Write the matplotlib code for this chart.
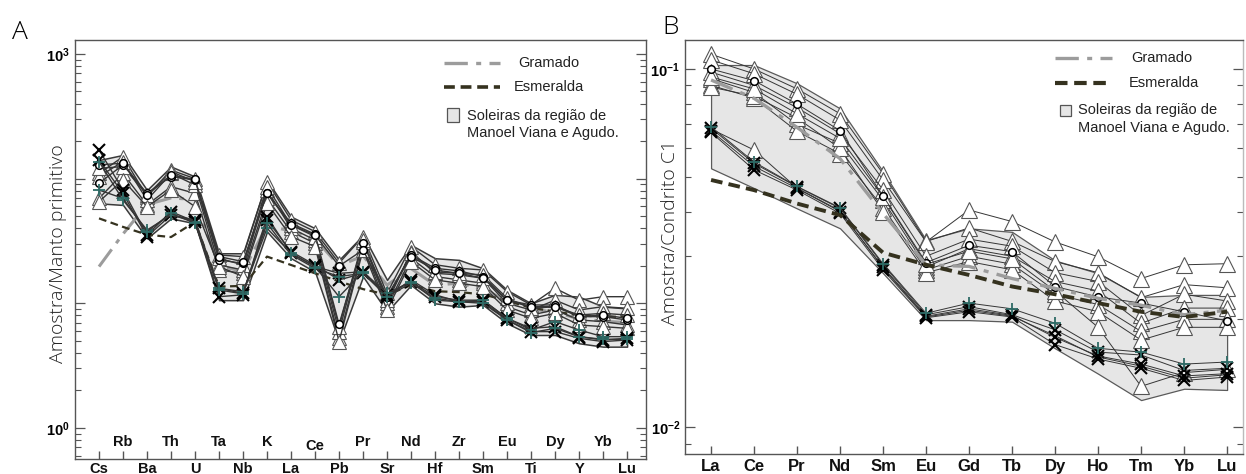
import numpy as np
import matplotlib.pyplot as plt
from matplotlib.lines import Line2D
from matplotlib.patches import Rectangle
from matplotlib.ticker import FixedLocator, NullFormatter

plt.rcParams['font.family'] = ['Liberation Sans', 'DejaVu Sans']
plt.rcParams['mathtext.fontset'] = 'custom'
plt.rcParams['mathtext.rm'] = 'Liberation Sans'
plt.rcParams['mathtext.bf'] = 'Liberation Sans:bold'

# ---------------- panel A : primitive mantle normalised ----------------
elem_a = ['Cs', 'Rb', 'Ba', 'Th', 'U', 'Ta', 'Nb', 'K', 'La', 'Ce', 'Pb', 'Pr',
          'Sr', 'Nd', 'Hf', 'Zr', 'Sm', 'Eu', 'Ti', 'Dy', 'Y', 'Yb', 'Lu']

a_field_top = [141, 155, 81, 125, 104, 25.2, 25.2, 97.5, 49.6, 40, 22.3, 35.3,
               15.4, 29.4, 23, 22.3, 19.1, 12.8, 10, 11.7, 11.3, 9.4, 9.1]
a_field_bot = [63.4, 61.5, 33.2, 48, 43.8, 10.6, 10.6, 37.6, 23, 17.9, 4.93, 16.4,
               8.57, 14, 10, 9.4, 9.7, 6.91, 5.57, 5.57, 4.78, 4.49, 4.49]

a_tri1 = [110, 150, 71.7, 117, 100, 24.4, 23.7, 94.6, 46.6, 37.6, 21, 34.3,
          12, 28.5, 20.4, 19.1, 18.5, 12.4, 9.7, 13.2, 10.6, 11.3, 11.3]
a_tri2 = [69.5, 110, 61.5, 86.2, 76.2, 18.5, 17.4, 69.5, 37.6, 30.3, 5.24, 28.5,
          9.4, 23, 16.4, 15.4, 14.5, 9.4, 8.06, 8.84, 7.35, 7.13, 6.7]
a_tri3 = [104, 137, 67.4, 110, 89, 20.3, 18.5, 81, 40, 32.2, 5.93, 31.3,
          10, 26, 17.4, 16.9, 15.9, 10, 8.84, 10.6, 8.84, 9.4, 9.12]
a_tri4 = [121, 125, 74, 114, 94.6, 23, 20.3, 86.2, 42.5, 34.3, 6.5, 32.2,
          10.6, 25.2, 17.9, 17.4, 16.9, 11, 9.1, 9.4, 8.06, 8.31, 8.06]
a_tri5 = [65.4, 97.5, 59.6, 81, 59.6, 19.7, 16.4, 63.4, 34.3, 28.5, 4.93, 26.8,
          8.84, 21.6, 15.4, 14.5, 13.6, 8.84, 7.58, 8.31, 6.7, 6.5, 6.3]
a_circ1 = [91.8, 129, 76.2, 104, 97.5, 22.3, 20.9, 76.2, 43.8, 35.8, 6.79, 30.3,
           11.3, 24.4, 19.1, 18.2, 16.4, 10.6, 9.7, 9.7, 7.82, 7.82, 7.35]
a_circ2 = [129, 133, 74, 107, 98.6, 23.7, 21.6, 76.2, 42.5, 35.3, 19.9, 26.8,
           11.3, 23.7, 18.5, 17.4, 15.9, 10.6, 9.4, 9.4, 7.82, 8.06, 7.58]
a_x1 = [170, 81, 35.3, 54.4, 45.2, 11.3, 11.7, 49.6, 25.2, 19.7, 17.4, 17.9,
        11.3, 15.4, 11.7, 10.3, 10.3, 7.35, 5.93, 5.93, 5.24, 4.93, 5.08]
a_x2 = [141, 76, 34.3, 51.1, 46.6, 13.2, 12, 46.6, 26, 20.3, 15.4, 17.4,
        11.7, 14.9, 11.3, 10.6, 10.6, 7.58, 6.3, 6.5, 5.4, 5.08, 5.24]
a_plus1 = [137, 67.4, 38.7, 51.1, 45.2, 13.2, 12.4, 40, 25.2, 19.7, 11.3, 17.9,
           12, 14.9, 10.6, 10.3, 10.6, 7.58, 6.11, 7.13, 6.11, 5.4, 5.4]
a_plus2 = [81, 69.5, 37.6, 52.7, 43.8, 12.8, 11.9, 43.8, 24.5, 19.1, 16.4, 17.4,
           11.3, 14.5, 11, 10.3, 10, 7.35, 5.82, 6.3, 5.4, 5.14, 5.14]

a_gramado = [19.7, 36, 62, 70, 68, 20, 18, 42, 38, 33, 20, 24,
             14, 19, 14, 14.5, 13, 10.5, 9, 8.5, 7.5, 7.2, 7]
a_esmeralda = [48, 41, 35.5, 34, 45, 13.6, 13.8, 23.7, 20.3, 17.4, 15, 13,
               11.7, 14, 12.5, 12.3, 11.8, 10.5, 9.2, 8.6, 8.0, 7.8, 7.8]

# ---------------- panel B : chondrite C1 normalised ----------------
elem_b = ['La', 'Ce', 'Pr', 'Nd', 'Sm', 'Eu', 'Gd', 'Tb', 'Dy', 'Ho', 'Tm', 'Yb', 'Lu']

b_field_top = [0.1026, 0.1026, 0.0912, 0.0776, 0.0517, 0.0333, 0.0359, 0.0351,
               0.0292, 0.0269, 0.0231, 0.0234, 0.0234]
b_field_bot = [0.0528, 0.0465, 0.0408, 0.0359, 0.0269, 0.0199, 0.0199, 0.0197,
               0.0166, 0.0141, 0.0119, 0.0128, 0.0127]

b_tri1 = [0.110, 0.100, 0.088, 0.075, 0.051, 0.0330, 0.0360, 0.0330, 0.0290, 0.0270, 0.0230, 0.0250, 0.0245]
b_tri2 = [0.106, 0.097, 0.085, 0.072, 0.049, 0.0329, 0.0404, 0.0375, 0.0329, 0.0299, 0.0260, 0.0284, 0.0286]
b_tri3 = [0.098, 0.090, 0.078, 0.066, 0.046, 0.0300, 0.0335, 0.0320, 0.0270, 0.0255, 0.0205, 0.0235, 0.0225]
b_tri4 = [0.094, 0.086, 0.070, 0.062, 0.043, 0.0280, 0.0315, 0.0300, 0.0255, 0.0240, 0.0195, 0.0215, 0.0215]
b_tri5 = [0.090, 0.083, 0.067, 0.058, 0.041, 0.0275, 0.0300, 0.0285, 0.0235, 0.0220, 0.0185, 0.0200, 0.0200]
b_tri6 = [0.089, 0.084, 0.073, 0.060, 0.040, 0.0270, 0.0290, 0.0275, 0.0225, 0.0210, 0.0175, 0.0190, 0.0190]
b_tri7 = [0.095, 0.088, 0.075, 0.064, 0.044, 0.0285, 0.0310, 0.0295, 0.0240, 0.0190, 0.0130, 0.0142, 0.0145]
b_circ = [0.100, 0.0928, 0.0798, 0.0673, 0.0442, 0.0288, 0.0322, 0.0309, 0.0247, 0.0231, 0.0222, 0.0210, 0.0198]
b_x1 = [0.0683, 0.0545, 0.0469, 0.0408, 0.0284, 0.0206, 0.0217, 0.0206, 0.0187, 0.0162, 0.0159, 0.0144, 0.0146]
b_x2 = [0.0665, 0.0523, 0.0459, 0.0395, 0.0275, 0.0202, 0.0210, 0.0203, 0.0170, 0.0155, 0.0146, 0.0135, 0.0138]
b_x3 = [0.0672, 0.0535, 0.0464, 0.0400, 0.0280, 0.0204, 0.0214, 0.0205, 0.0178, 0.0158, 0.0150, 0.0139, 0.0141]
b_plus = [0.0690, 0.0550, 0.0470, 0.0410, 0.0286, 0.0208, 0.0222, 0.0214, 0.0195, 0.0166, 0.0162, 0.0150, 0.0152]
b_low_tri = [0.0680, 0.0594, 0.0465, 0.0402, 0.0278, 0.0203, 0.0212, 0.0204, 0.0180, 0.0157, 0.0148, 0.0137, 0.0140]

b_gramado = [0.0932, 0.0828, 0.0687, 0.0562, 0.0395, 0.0284, 0.0281, 0.0260, 0.0244, 0.0229, 0.0219, 0.0206, 0.0212]
b_esmeralda = [0.0490, 0.0459, 0.0421, 0.0391, 0.0307, 0.0284, 0.0266, 0.0247, 0.0235, 0.0222, 0.0210, 0.0203, 0.0210]

LINE = '#353535'
TEAL = '#2e6b66'
FIELD = '#e6e6e6'
GRAM = '#9c9c9c'
ESME = '#35321f'

fig = plt.figure(figsize=(12.46, 4.74), dpi=100)
axA = fig.add_axes([0.0602, 0.0316, 0.4583, 0.884])
axB = fig.add_axes([0.5498, 0.0422, 0.4478, 0.8734])


def draw_samples(ax, x, tris, circs, xs, pluses, tri_ms, lw, extra=None):
    for y in tris:
        ax.plot(x, y, color=LINE, lw=lw, marker='^', ms=tri_ms, mfc='white',
                mec='#555555', mew=0.8, zorder=3)
    if extra is not None:
        ax.plot(x, extra, color=LINE, lw=lw, marker='^', ms=tri_ms, mfc='white',
                mec='#555555', mew=0.8, markevery=[1], zorder=3)
    for y in circs:
        ax.plot(x, y, color=LINE, lw=lw, marker='o', ms=5.5, mfc='white',
                mec='black', mew=1.1, zorder=4)
    for y in xs:
        ax.plot(x, y, color=LINE, lw=lw, marker='x', ms=9, mec='black',
                mew=1.5, zorder=4)
    for y in pluses:
        ax.plot(x, y, color=LINE, lw=lw, marker='+', ms=9, mec=TEAL,
                mew=1.3, zorder=5)


def draw_legend(ax, x0, x1, xt1, xt2, y1, y2, px0, px1, py0, py1, xt3, y3, y4, lw_e):
    tr = ax.transAxes
    ax.add_line(Line2D([x0, x1], [y1, y1], transform=tr, color=GRAM, lw=2.4,
                       dashes=[7, 2.5, 1.5, 2.5]))
    ax.add_line(Line2D([x0, x1], [y2, y2], transform=tr, color=ESME, lw=lw_e,
                       dashes=[3, 1.6]))
    ax.text(xt1, y1, 'Gramado', transform=tr, fontsize=10.5, va='center', color='#222222')
    ax.text(xt2, y2, 'Esmeralda', transform=tr, fontsize=10.5, va='center', color='#222222')
    ax.add_patch(Rectangle((px0, py0), px1 - px0, py1 - py0, transform=tr,
                           facecolor=FIELD, edgecolor='#555555', lw=0.9))
    ax.text(xt3, y3, 'Soleiras da região de', transform=tr, fontsize=10.5,
            va='center', color='#222222')
    ax.text(xt3, y4, 'Manoel Viana e Agudo.', transform=tr, fontsize=10.5,
            va='center', color='#222222')


def style_axes(ax):
    for s in ax.spines.values():
        s.set_color('#555555')
        s.set_linewidth(1.0)
    ax.tick_params(axis='y', which='both', direction='in', left=True, right=True,
                   colors='#555555', labelcolor='black')
    ax.tick_params(axis='y', which='major', length=7, width=0.9)
    ax.tick_params(axis='y', which='minor', length=4, width=0.8)
    ax.tick_params(axis='x', which='major', direction='in', length=6, width=1.0,
                   top=False, colors='#555555', labelbottom=False)


# ---- panel A ----
xa = np.arange(len(elem_a))
axA.set_yscale('log')
axA.fill_between(xa, a_field_bot, a_field_top, facecolor=FIELD, edgecolor='#3a3a3a',
                 lw=1.1, zorder=1)
axA.plot(xa, a_gramado, color=GRAM, lw=2.2, dashes=[7, 2.5, 1.5, 2.5], zorder=2)
axA.plot(xa, a_esmeralda, color=ESME, lw=1.6, dashes=[3.5, 2], zorder=2)
draw_samples(axA, xa, [a_tri1, a_tri2, a_tri3, a_tri4, a_tri5], [a_circ1, a_circ2],
             [a_x1, a_x2], [a_plus1, a_plus2], 10, 1.0)
axA.set_xlim(-1.0, 22.79)
axA.set_ylim(10 ** -0.249, 10 ** 3.112)
axA.set_xticks(xa)
axA.yaxis.set_major_locator(FixedLocator([1, 10, 100, 1000]))
axA.yaxis.set_minor_locator(FixedLocator([m * 10.0 ** d for d in range(-1, 3) for m in range(2, 10)]))
axA.yaxis.set_minor_formatter(NullFormatter())
axA.set_yticklabels([r'$\mathbf{10^{0}}$', '', '', r'$\mathbf{10^{3}}$'], fontsize=10.5)
style_axes(axA)
for i, name in enumerate(elem_a):
    if i % 2 == 1:
        yy = 0.031 if name == 'Ce' else 0.041
    else:
        yy = -0.023
    axA.text(i, yy, name, transform=axA.get_xaxis_transform(), ha='center', va='center',
             fontsize=10.5, fontweight='bold', color='#111111', clip_on=False)
axA.text(-0.03, 0.489, 'Amostra/Manto primitivo', transform=axA.transAxes, rotation=90,
         ha='center', va='center', fontsize=14, family=['Open Sans', 'DejaVu Sans'],
         fontweight='light', color='#222222')
draw_legend(axA, 0.646, 0.744, 0.776, 0.768, 0.945, 0.888, 0.651, 0.672, 0.804, 0.838,
            0.687, 0.819, 0.777, 2.6)

# ---- panel B ----
xb = np.arange(len(elem_b))
axB.set_yscale('log')
axB.fill_between(xb, b_field_bot, b_field_top, facecolor=FIELD, edgecolor='#5a5a5a',
                 lw=0.9, zorder=1)
draw_samples(axB, xb, [b_tri1, b_tri2, b_tri3, b_tri4, b_tri5, b_tri6, b_tri7], [b_circ],
             [b_x1, b_x2, b_x3], [b_plus], 11, 0.7, extra=b_low_tri)
axB.plot(xb, b_gramado, color=GRAM, lw=2.4, dashes=[7, 2.5, 1.5, 2.5], zorder=6)
axB.plot(xb, b_esmeralda, color=ESME, lw=2.8, dashes=[3, 1.6], zorder=6)
axB.set_xlim(-0.605, 12.37)
axB.set_ylim(10 ** -2.075, 10 ** -0.919)
axB.set_xticks(xb)
axB.yaxis.set_major_locator(FixedLocator([0.01, 0.1]))
axB.yaxis.set_minor_locator(FixedLocator([m * 0.01 for m in range(2, 10)] + [0.009]))
axB.yaxis.set_minor_formatter(NullFormatter())
axB.set_yticklabels([r'$\mathbf{10^{-2}}$', r'$\mathbf{10^{-1}}$'], fontsize=10.5)
style_axes(axB)
axB.spines['right'].set_color('#bbbbbb')
for i, name in enumerate(elem_b):
    axB.text(i, -0.029, name, transform=axB.get_xaxis_transform(), ha='center', va='center',
             fontsize=12, fontweight='bold', color='#111111', clip_on=False)
axB.text(-0.027, 0.534, 'Amostra/Condrito C1', transform=axB.transAxes, rotation=90,
         ha='center', va='center', fontsize=14, family=['Open Sans', 'DejaVu Sans'],
         fontweight='light', color='#222222')
draw_legend(axB, 0.663, 0.765, 0.799, 0.796, 0.957, 0.896, 0.672, 0.692, 0.816, 0.843,
            0.704, 0.831, 0.787, 3.0)

fig.text(12 / 1246, 1 - 39 / 474, 'A', fontsize=19, family=['Open Sans', 'DejaVu Sans'],
         fontweight='light', va='baseline')
fig.text(662 / 1246, 1 - 34 / 474, 'B', fontsize=19, family=['Open Sans', 'DejaVu Sans'],
         fontweight='light', va='baseline')

fig.savefig('out.png', dpi=100)
